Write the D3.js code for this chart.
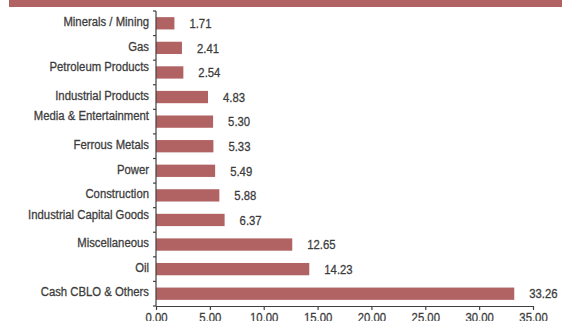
<!DOCTYPE html>
<html>
<head>
<meta charset="utf-8">
<script src="https://cdn.jsdelivr.net/npm/d3@7"></script>
<style>
  html, body { margin: 0; padding: 0; background: #fff; }
  svg { display: block; }
  text { font-family: "Liberation Sans", Arial, sans-serif; }
</style>
</head>
<body>
<svg id="chart" width="562" height="321"></svg>
<script>
// Sector allocation (% of net assets)
const sectors = [
  "Minerals / Mining", "Gas", "Petroleum Products", "Industrial Products",
  "Media & Entertainment", "Ferrous Metals", "Power", "Construction",
  "Industrial Capital Goods", "Miscellaneous", "Oil", "Cash CBLO & Others"
];
const weights = [1.71, 2.41, 2.54, 4.83, 5.30, 5.33, 5.49, 5.88, 6.37, 12.65, 14.23, 33.26];
const xTicks = [0, 5, 10, 15, 20, 25, 30, 35];

// Labels that sit higher in their band
const raised = new Set(["Petroleum Products", "Media & Entertainment", "Industrial Capital Goods"]);

const barColor = "#b16363";
const axisColor = "#404040";
const textColor = "#3c3c3c";
const fontSize = 13.5;
const squeeze = 0.84; // condensed lettering

const svg = d3.select("#chart");

// Draw condensed text at (x, y)
function condensed(sel, xf, yf) {
  sel.attr("x", 0).attr("y", 0)
    .attr("transform", (d, i) => `translate(${xf(d, i)},${yf(d, i)}) scale(${squeeze},1)`)
    .attr("font-size", fontSize)
    .attr("fill", textColor)
    .attr("stroke", textColor)
    .attr("stroke-width", 0.3);
}

// Header band
svg.append("rect")
  .attr("x", 9).attr("y", 0)
  .attr("width", 553).attr("height", 7)
  .attr("fill", barColor);

const x = d3.scaleLinear().domain([0, 35]).range([156, 533]);
const y = d3.scaleBand().domain(sectors).range([11, 306]).paddingInner(0.5).paddingOuter(0.25);

// Bars
svg.append("g").selectAll("rect")
  .data(sectors)
  .join("rect")
  .attr("x", x(0))
  .attr("y", d => y(d))
  .attr("width", (d, i) => x(weights[i]) - x(0))
  .attr("height", y.bandwidth())
  .attr("fill", barColor);

// Value labels
svg.append("g").selectAll("text")
  .data(sectors)
  .join("text")
  .attr("dy", "0.35em")
  .text((d, i) => weights[i].toFixed(2))
  .call(condensed, (d, i) => x(weights[i]) + 15, d => y(d) + y.bandwidth() / 2);

// Category labels
svg.append("g").selectAll("text")
  .data(sectors)
  .join("text")
  .attr("dy", "0.35em")
  .attr("text-anchor", "end")
  .text(d => d)
  .call(condensed, () => 149, d => y(d) + y.bandwidth() / 2 - (raised.has(d) ? 6 : 2));

// Vertical category axis with ticks at band boundaries
const yAxisG = svg.append("g");
yAxisG.append("line")
  .attr("x1", x(0)).attr("x2", x(0))
  .attr("y1", 11).attr("y2", 306)
  .attr("stroke", axisColor).attr("stroke-width", 1.2);
const boundaries = d3.range(sectors.length + 1).map(i => 11 + i * (295 / sectors.length));
yAxisG.selectAll("line.tick")
  .data(boundaries)
  .join("line")
  .attr("class", "tick")
  .attr("x1", x(0) - 3).attr("x2", x(0))
  .attr("y1", d => d).attr("y2", d => d)
  .attr("stroke", axisColor).attr("stroke-width", 1.2);

// Horizontal value axis
const xAxis = d3.axisBottom(x)
  .tickValues(xTicks)
  .tickFormat(d3.format(".2f"))
  .tickSizeInner(4)
  .tickSizeOuter(0)
  .tickPadding(2);
const xAxisG = svg.append("g")
  .attr("transform", "translate(0,306)")
  .call(xAxis);
xAxisG.select(".domain").attr("stroke", axisColor).attr("stroke-width", 1.2);
xAxisG.selectAll(".tick line").attr("stroke", axisColor).attr("stroke-width", 1.2);
xAxisG.selectAll(".tick text")
  .attr("fill", textColor)
  .attr("stroke", textColor)
  .attr("stroke-width", 0.3)
  .attr("font-size", fontSize)
  .attr("font-family", "'Liberation Sans', Arial, sans-serif")
  .attr("y", 0).attr("dy", 0)
  .attr("transform", `translate(0,16) scale(${squeeze},1)`);
</script>
</body>
</html>
